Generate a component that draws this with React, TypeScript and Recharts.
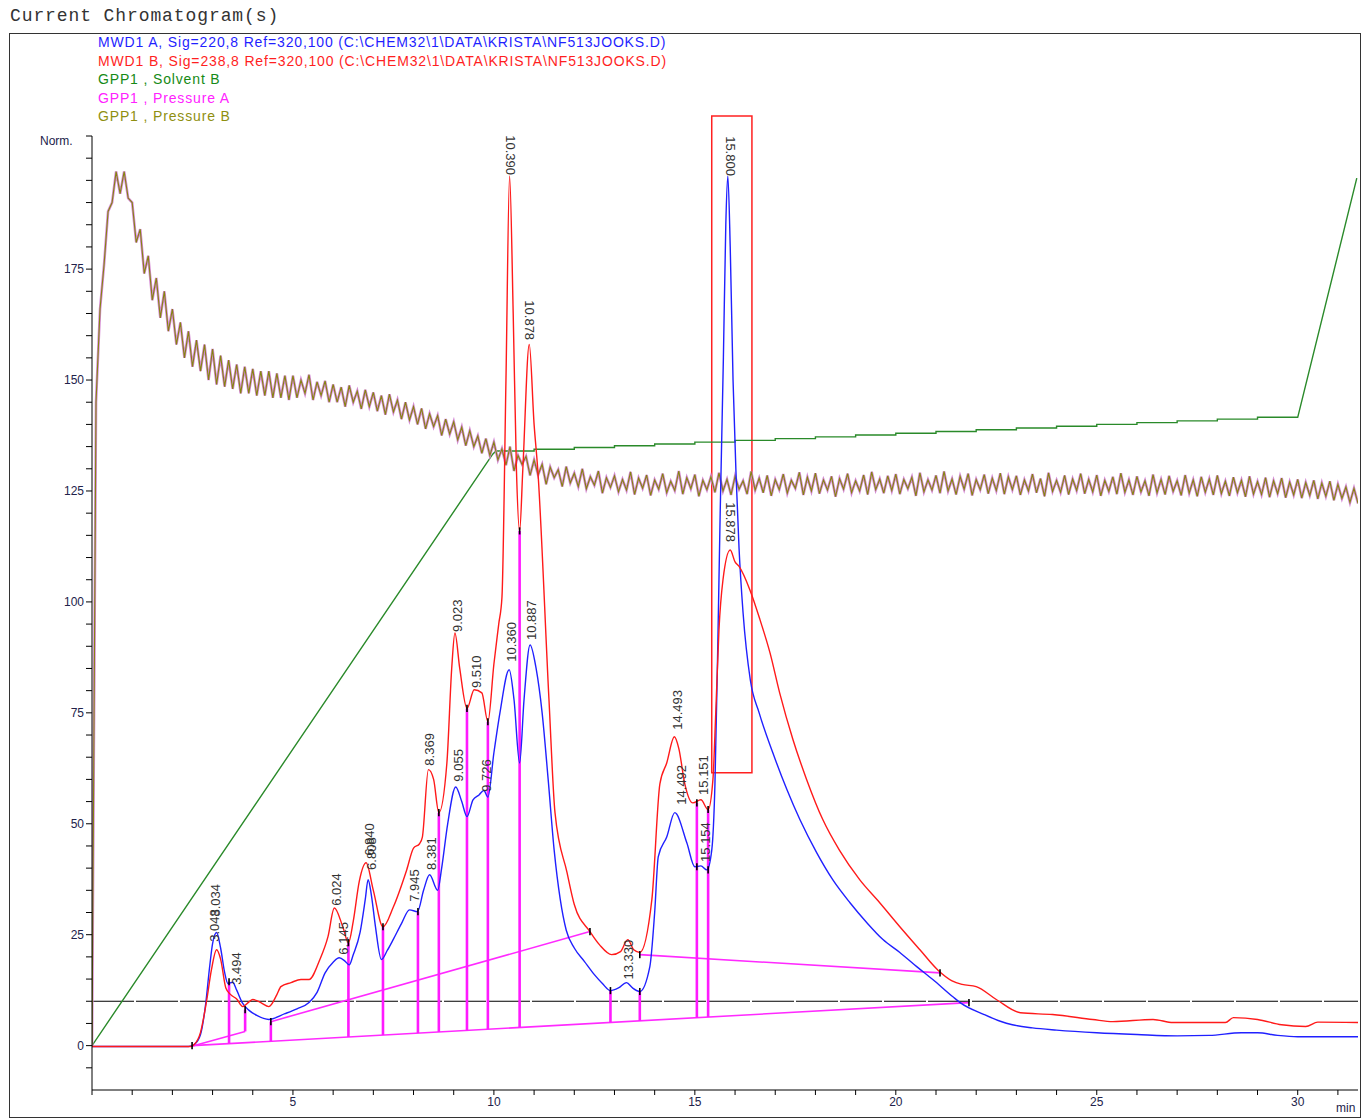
import { ComposedChart, Line, XAxis, YAxis, ReferenceLine, ReferenceArea, Scatter } from "recharts";

const FONT = "Arial, 'Liberation Sans', sans-serif";

// MWD1 A (blue) – [min, norm]
const BLUE_A: [number, number][] = [
  [0, -0.2], [2.4, -0.2], [2.55, 0.3], [2.7, 2.5], [2.82, 8.8], [2.93, 18], [3.0, 23], [3.1, 25.5],
  [3.2, 22], [3.3, 16.5], [3.38, 14], [3.5, 14.3], [3.6, 12.5], [3.75, 9.5], [3.9, 8], [4.1, 6.8],
  [4.4, 5.9], [4.8, 7.2], [5.1, 8.3], [5.4, 9.7], [5.6, 12], [5.8, 16.4], [6.0, 18.8], [6.15, 19.8],
  [6.3, 19], [6.4, 18.2], [6.5, 20.5], [6.67, 25.5], [6.8, 33], [6.87, 37.4], [6.95, 34], [7.05, 27],
  [7.2, 19.4], [7.35, 21.5], [7.5, 24], [7.7, 27.5], [7.9, 30.6], [8.1, 30.2], [8.25, 35], [8.4, 38.5],
  [8.6, 35], [8.7, 40], [8.85, 50], [9.05, 58.3], [9.2, 55], [9.33, 51.6], [9.48, 55.4], [9.63, 56.5],
  [9.75, 57.5], [9.85, 56], [10.0, 66], [10.15, 75], [10.38, 84.7], [10.5, 78], [10.64, 63.7],
  [10.75, 78], [10.9, 90.3], [11.05, 85], [11.2, 75], [11.35, 60], [11.5, 44], [11.65, 33],
  [11.8, 26], [12.0, 22], [12.25, 19], [12.5, 16], [12.7, 14], [12.9, 12.4], [13.1, 13], [13.3, 14.2],
  [13.45, 13], [13.63, 12.2], [13.88, 17.8], [14.0, 30], [14.09, 42.6], [14.3, 47], [14.5, 52.5],
  [14.8, 45.7], [15.0, 40.3], [15.15, 40.5], [15.3, 39.6], [15.42, 44], [15.5, 59], [15.57, 90],
  [15.63, 120], [15.71, 155], [15.77, 185], [15.82, 196], [15.88, 180], [15.95, 150], [16.03, 127.5],
  [16.1, 112], [16.2, 97.5], [16.38, 82.4], [16.6, 75], [16.94, 66], [17.29, 57.7], [17.61, 51],
  [18.03, 43.5], [18.43, 37.4], [18.86, 32.2], [19.28, 27.7], [19.68, 23.9], [20.1, 21], [20.52, 17.8],
  [20.92, 14.9], [21.42, 11], [21.6, 9.7], [22.2, 7], [22.6, 5.5], [22.9, 4.7], [23.4, 4], [24, 3.5],
  [25, 2.9], [26, 2.5], [27, 2.2], [27.8, 2.3], [28.6, 2.9], [29, 2.9], [29.5, 2.3], [30, 2.0], [31.5, 2.0],
];

// MWD1 B (red)
const RED_B: [number, number][] = [
  [0, -0.2], [2.45, -0.2], [2.55, 0.3], [2.7, 3], [2.85, 10], [2.97, 17], [3.1, 21.6], [3.2, 19.5],
  [3.33, 13], [3.45, 11.5], [3.6, 10.5], [3.75, 8.8], [3.9, 9.8], [4.0, 10.4], [4.2, 9.7], [4.4, 8.8],
  [4.6, 11.5], [4.7, 13.3], [4.95, 14.2], [5.2, 14.9], [5.4, 14.9], [5.67, 19.4], [5.87, 24.5],
  [6.03, 31], [6.24, 26.8], [6.38, 23.2], [6.5, 28], [6.65, 37], [6.82, 41.2], [7.0, 35], [7.24, 26.8],
  [7.5, 31.3], [7.83, 39.6], [8.0, 44.5], [8.15, 45.5], [8.22, 47], [8.37, 62.2], [8.5, 60],
  [8.63, 52.5], [8.83, 63.7], [8.95, 85], [9.03, 93], [9.15, 85], [9.33, 76], [9.51, 80.2], [9.7, 79.5],
  [9.85, 73], [10.0, 86], [10.12, 95], [10.2, 101], [10.3, 150], [10.39, 196], [10.48, 165],
  [10.56, 130], [10.64, 116], [10.72, 130], [10.88, 158], [11.0, 140], [11.09, 130], [11.37, 78],
  [11.52, 52.5], [11.82, 39], [12.0, 31.8], [12.39, 25.7], [12.63, 22.7], [12.93, 20.5], [13.15, 21.2],
  [13.33, 23.9], [13.48, 21.6], [13.63, 21], [13.93, 32.9], [14.13, 59], [14.3, 63.7], [14.49, 69.6],
  [14.6, 67], [14.75, 59], [14.95, 54.7], [15.15, 55.4], [15.33, 53.2], [15.45, 60], [15.52, 75],
  [15.6, 93.7], [15.7, 105], [15.88, 111.7], [16.0, 109], [16.1, 108], [16.37, 102.7], [16.62, 96],
  [16.87, 88.5], [17.11, 79.5], [17.44, 69], [17.78, 60], [18.18, 51], [18.6, 44], [19.1, 37.4],
  [19.6, 32.2], [20.1, 26.8], [20.6, 21.6], [21.05, 17], [21.4, 14.6], [21.65, 13.8], [22.0, 13.3],
  [22.5, 10.4], [23.1, 7.4], [23.9, 7], [24.9, 5.9], [25.4, 5.4], [26.4, 5.9], [26.9, 5.2], [28.2, 5.2],
  [28.4, 6.3], [29.0, 5.9], [29.6, 4.7], [30.2, 4.3], [30.5, 5.3], [31.5, 5.2],
];

// GPP1 Solvent B (green)
const SOLVENT_B: [number, number][] = [
  [0, 0], [9.97, 133.3], [10.05, 134.0], [11, 134.0], [11, 134.4], [12, 134.4], [12, 134.8], [13, 134.8],
  [13, 135.2], [14, 135.2], [14, 135.6], [15, 135.6], [15, 136.0], [16, 136.0], [16, 136.4], [17, 136.4],
  [17, 136.8], [18, 136.8], [18, 137.2], [19, 137.2], [19, 137.6], [20, 137.6], [20, 138.0], [21, 138.0],
  [21, 138.4], [22, 138.4], [22, 138.8], [23, 138.8], [23, 139.2], [24, 139.2], [24, 139.6], [25, 139.6],
  [25, 140.0], [26, 140.0], [26, 140.4], [27, 140.4], [27, 140.8], [28, 140.8], [28, 141.2], [29, 141.2],
  [29, 141.6], [30, 141.6], [31.47, 195.5],
];

// GPP1 pressure, sampled every 0.1 min from 0
const PRESSURE_STEP = 0.1;
const PRESSURE: number[] = [
  0, 145, 166, 176, 188, 190, 197, 192, 197, 191,
  190, 181, 184, 174, 178, 168, 173, 164, 170, 161,
  166, 158, 163, 155, 161, 153, 159, 152, 158, 150,
  157, 149, 155.5, 148.5, 154.5, 148, 153.5, 147, 153, 147,
  152.5, 146.5, 152, 146.5, 152, 146, 151.5, 146, 151, 145.5,
  151, 146, 150, 147, 151.2, 145.5, 149.6, 146.5, 149.8, 145,
  149, 145, 148.4, 144, 148.8, 145, 147.5, 143.5, 147.8, 144,
  147.2, 143, 146.5, 142.2, 146.8, 142.8, 145.5, 141.2, 145, 141,
  144, 140, 143.6, 139, 142.4, 139.5, 142, 137.5, 141.2, 137.8,
  140.6, 136.5, 139.4, 135.2, 138.6, 135, 137.4, 133.5, 136.8, 133,
  136, 132, 134.5, 130.8, 135, 129.5, 133, 131, 132.8, 128.5,
  132, 128.6, 131, 126.5, 130.4, 128, 129.8, 126, 130.5, 126.8,
  129, 126, 130, 125.5, 128.2, 126.3, 129.5, 124.5, 128, 125.8,
  128.4, 124.8, 127.6, 125.2, 129.3, 124.2, 127.9, 125.6, 128.6, 124,
  127.5, 125.4, 128.9, 124.6, 127.2, 125.1, 129.5, 124.3, 128, 125.5,
  128.7, 123.8, 127.4, 125.3, 128.2, 124.7, 129.1, 125, 127.6, 124.1,
  128.3, 125.4, 127.3, 124.3, 129.4, 125.2, 127.9, 124.6, 128.5, 123.9,
  127.6, 125.3, 128.8, 124.5, 127.4, 125.6, 129.2, 124.1, 128.1, 125,
  129, 124.4, 127.5, 125.2, 128.3, 123.7, 127.8, 125.4, 128.9, 124.6,
  127.3, 125, 128.6, 124.2, 129.3, 125.3, 127.7, 124.5, 128.4, 125.1,
  128.8, 124.3, 127.6, 125.5, 128.1, 123.9, 129.1, 124.8, 127.5, 125.2,
  128.5, 124.5, 129.4, 125, 127.7, 124.2, 128.3, 125.4, 128.9, 124,
  127.6, 125.3, 128.7, 124.4, 127.9, 125.1, 129, 124.3, 128.2, 125.3,
  128.4, 124.1, 127.5, 125, 128.8, 124.6, 127.8, 123.8, 129.1, 124.9,
  127.4, 124.7, 128.5, 124.2, 127.7, 125.1, 128.9, 124.4, 127.6, 124.8,
  128.6, 123.9, 127.4, 124.9, 128.2, 124.3, 129, 124.7, 127.5, 124.1,
  128.3, 124.8, 127.3, 123.9, 128.7, 124.6, 127.6, 124.2, 128.4, 124.9,
  127.3, 124, 128.6, 124.5, 127.5, 123.8, 128.2, 124.7, 127.7, 124.1,
  128.5, 124.4, 127.2, 123.9, 128.1, 124.6, 127.4, 123.7, 128.3, 124.3,
  127.1, 124.2, 128, 123.6, 127.3, 124.4, 127.9, 123.5, 127, 124.1,
  127.6, 123.4, 126.9, 124, 127.4, 123.2, 126.8, 123.8, 127.2, 122.9,
  126.5, 123.3, 125.9, 122.4, 125.6, 122.2,
];

// integration baselines [t0, v0, t1, v1]
const BASELINES: [number, number, number, number][] = [
  [2.49, 0, 21.82, 9.7],
  [2.46, -0.2, 3.81, 3.2],
  [4.45, 5.4, 12.39, 25.7],
  [13.63, 20.5, 21.1, 16.4],
];

// drop lines [t, from, to]
const DROPS: [number, number, number][] = [
  [3.41, 0.46, 14.4], [3.81, 3.2, 8.1], [4.45, 0.98, 5.4], [6.38, 1.95, 23.2], [7.24, 2.38, 26.8],
  [8.11, 2.82, 30.2], [8.63, 3.08, 52.5], [9.33, 3.43, 76], [9.85, 3.69, 73], [10.64, 4.09, 116],
  [12.9, 5.22, 12.4], [13.63, 5.59, 12.2], [15.05, 6.3, 54.7], [15.33, 6.44, 53.2],
];

// black event marks [t, v]
const MARKS: [number, number][] = [
  [2.49, 0], [21.82, 9.7], [3.81, 8.1], [4.45, 5.4], [6.38, 23.2], [7.24, 26.8], [8.11, 30.2],
  [8.63, 52.5], [9.33, 76], [9.85, 73], [10.64, 116], [12.39, 25.7], [12.9, 12.4], [13.63, 12.2],
  [13.63, 20.5], [15.05, 54.7], [15.33, 53.2], [15.05, 40.3], [15.33, 39.6], [21.1, 16.4], [3.41, 14.4],
];

// peak labels: text, t, v (start of text), rotation
const PEAK_TEXT = ["3.048", "3.034", "3.494", "6.024", "6.145", "6.808", "6.840", "7.945", "8.381", "8.369",
  "9.055", "9.023", "9.510", "9.726", "10.360", "10.887", "13.330", "14.493", "14.492", "15.151", "15.154",
  "10.390", "10.878", "15.800", "15.878"];
const PEAK_T = [3.03, 3.06, 3.56, 6.07, 6.24, 6.92, 6.89, 7.99, 8.43, 8.38, 9.1, 9.08, 9.55, 9.78, 10.42, 10.92,
  13.33, 14.55, 14.65, 15.2, 15.24, 10.45, 10.92, 15.9, 15.9];
const PEAK_V = [23.4, 29.1, 13.7, 31.5, 20.5, 39.6, 42.8, 32.4, 39.6, 63.1, 59.5, 93.2, 80.6, 57.2, 86.5, 91.4,
  14.9, 71.2, 54.3, 56.5, 41.4, 196.2, 159, 196, 113.5];
const PEAK_ROT = [-90, -90, -90, -90, -90, -90, -90, -90, -90, -90, -90, -90, -90, -90, -90, -90,
  -90, -90, -90, -90, -90, 90, 90, 90, 90];

const X_TICKS = [0, 1, 2, 3, 4, 5, 6, 7, 8, 9, 10, 11, 12, 13, 14, 15, 16, 17, 18, 19, 20, 21, 22, 23, 24, 25,
  26, 27, 28, 29, 30, 31];
const Y_TICKS = [-5, 0, 5, 10, 15, 20, 25, 30, 35, 40, 45, 50, 55, 60, 65, 70, 75, 80, 85, 90, 95, 100, 105,
  110, 115, 120, 125, 130, 135, 140, 145, 150, 155, 160, 165, 170, 175, 180, 185, 190, 195, 200, 205];
const Y_LABELS = [0, 25, 50, 75, 100, 125, 150, 175];

const LEGEND = [
  { text: "MWD1 A, Sig=220,8 Ref=320,100 (C:\\CHEM32\\1\\DATA\\KRISTA\\NF513JOOKS.D)", color: "#1f1fff" },
  { text: "MWD1 B, Sig=238,8 Ref=320,100 (C:\\CHEM32\\1\\DATA\\KRISTA\\NF513JOOKS.D)", color: "#ff1f1f" },
  { text: "GPP1 , Solvent B", color: "#168a16" },
  { text: "GPP1 , Pressure A", color: "#ff22ff" },
  { text: "GPP1 , Pressure B", color: "#8f8f10" },
];

const toPts = (arr: [number, number][]) => arr.map(([t, v]) => ({ t, v }));

function PeakLabel(props: any) {
  const { cx, cy, payload } = props;
  if (cx == null || cy == null) return null;
  const rot = payload.rot;
  const x = rot < 0 ? cx + 1 : cx - 1;
  return (
    <text
      x={x}
      y={cy}
      transform={`rotate(${rot} ${x} ${cy})`}
      textAnchor={rot < 0 ? "start" : "end"}
      dominantBaseline="central"
      fontSize={13}
      fontFamily={FONT}
      fill="#333"
    >
      {payload.text}
    </text>
  );
}

export default function App() {
  const blue = toPts(BLUE_A);
  const red = toPts(RED_B);
  const green = toPts(SOLVENT_B);
  const pressure = PRESSURE.map((v, i) => ({ t: Math.round(i * PRESSURE_STEP * 100) / 100, v }));
  const labels = PEAK_TEXT.map((text, i) => ({ t: PEAK_T[i], v: PEAK_V[i], text, rot: PEAK_ROT[i] }));

  return (
    <div style={{ position: "absolute", left: 0, top: 0, width: 1368, height: 1119, background: "#fff", overflow: "hidden" }}>
      <div style={{ position: "absolute", left: 10, top: 5, fontFamily: "'Liberation Mono', 'DejaVu Sans Mono', monospace", fontSize: 18, letterSpacing: 0.9, color: "#333", lineHeight: "22px" }}>
        Current Chromatogram(s)
      </div>
      <div style={{ position: "absolute", left: 9, top: 33, width: 1350, height: 1083, border: "1px solid #333" }} />
      {LEGEND.map((l, i) => (
        <div key={l.text} style={{ position: "absolute", left: 98, top: 34 + i * 18.5, fontFamily: FONT, fontSize: 14, letterSpacing: 0.85, color: l.color, lineHeight: "17px", whiteSpace: "nowrap" }}>
          {l.text}
        </div>
      ))}
      <div style={{ position: "absolute", left: 40, top: 133, fontFamily: FONT, fontSize: 12, color: "#22224a", lineHeight: "16px" }}>Norm.</div>
      <div style={{ position: "absolute", left: 1336, top: 1100, fontFamily: FONT, fontSize: 12, color: "#22224a", lineHeight: "16px" }}>min</div>
      <div style={{ position: "absolute", left: 0, top: 0 }}>
        <ComposedChart width={1368} height={1119} margin={{ top: 136, right: 10, bottom: 0, left: 32 }}>
          <XAxis
            type="number"
            dataKey="t"
            domain={[0, 31.5]}
            ticks={X_TICKS}
            interval={0}
            allowDataOverflow
            height={29}
            tickSize={5}
            axisLine={{ stroke: "#000" }}
            tickLine={{ stroke: "#000" }}
            tick={{ fontSize: 12, fill: "#22224a", fontFamily: FONT }}
            tickFormatter={(v: number) => (v > 0 && v % 5 === 0 ? String(v) : "")}
          />
          <YAxis
            type="number"
            dataKey="v"
            domain={[-10, 205]}
            ticks={Y_TICKS}
            interval={0}
            allowDataOverflow
            width={60}
            tickSize={6}
            axisLine={{ stroke: "#000" }}
            tickLine={{ stroke: "#000" }}
            tick={{ fontSize: 12, fill: "#22224a", fontFamily: FONT }}
            tickFormatter={(v: number) => (Y_LABELS.includes(v) ? String(v) : "")}
          />
          <ReferenceLine y={10} stroke="#000" strokeWidth={1.2} strokeDasharray="42 2" />
          <Line data={green} dataKey="v" type="linear" stroke="#2a8a2a" strokeWidth={1.4} dot={false} isAnimationActive={false} />
          <Line data={pressure} dataKey="v" type="linear" stroke="#d58ad5" strokeWidth={2.6} dot={false} isAnimationActive={false} />
          <Line data={pressure} dataKey="v" type="linear" stroke="#85850f" strokeWidth={1.1} dot={false} isAnimationActive={false} />
          {BASELINES.map(([t0, v0, t1, v1], i) => (
            <ReferenceLine key={`b${i}`} segment={[{ x: t0, y: v0 }, { x: t1, y: v1 }]} stroke="#ff2aff" strokeWidth={1.6} />
          ))}
          {DROPS.map(([t, a, b], i) => (
            <ReferenceLine key={`d${i}`} segment={[{ x: t, y: a }, { x: t, y: b }]} stroke="#ff1aff" strokeWidth={2.6} />
          ))}
          <Line data={blue} dataKey="v" type="monotone" stroke="#2020ff" strokeWidth={1.4} dot={false} isAnimationActive={false} />
          <Line data={red} dataKey="v" type="monotone" stroke="#ff1a1a" strokeWidth={1.4} dot={false} isAnimationActive={false} />
          {MARKS.map(([t, v], i) => (
            <ReferenceLine key={`m${i}`} segment={[{ x: t, y: v - 0.8 }, { x: t, y: v + 0.8 }]} stroke="#000" strokeWidth={1.6} />
          ))}
          <ReferenceArea x1={15.42} x2={16.42} y1={61.5} y2={209.5} ifOverflow="visible" stroke="#ff2020" strokeWidth={1.5} fill="none" fillOpacity={0} />
          <Scatter data={labels} dataKey="v" shape={PeakLabel} isAnimationActive={false} />
        </ComposedChart>
      </div>
    </div>
  );
}
